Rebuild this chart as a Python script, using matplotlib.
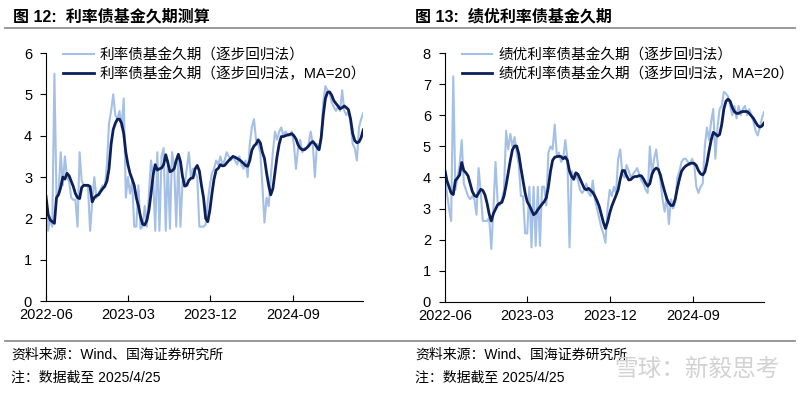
import matplotlib
matplotlib.use('Agg')
import matplotlib.pyplot as plt
import matplotlib.dates as mdates
from matplotlib.lines import Line2D
import numpy as np
import pandas as pd

plt.rcParams['font.family'] = ['Liberation Sans', 'Noto Sans CJK SC']

# weekly observation dates
dates = pd.date_range('2022-06-01', periods=152, freq='7D')

# 图12 利率债基金久期（逐步回归法）
rate_raw = [2.5, 1.7, 2.0, 1.8, 5.5, 2.5, 2.6, 3.6, 2.8, 3.5,
            3.0, 2.9, 2.5, 2.45, 2.45, 1.8, 3.6, 2.9, 2.8, 2.8,
            2.75, 1.7, 2.4, 3.0, 2.5, 2.6, 2.7, 2.8, 2.75, 3.3,
            4.3, 4.6, 5.0, 4.5, 4.4, 4.6, 4.2, 4.9, 2.5, 3.0,
            2.6, 2.9, 1.8, 1.8, 2.8, 1.75, 1.8, 2.3, 1.8, 2.6,
            3.4, 3.0, 1.7, 3.6, 1.7, 3.5, 3.7, 1.7, 3.4, 1.75,
            3.6, 3.3, 1.8, 3.5, 1.8, 2.9, 2.8, 3.2, 3.6, 3.0,
            3.2, 3.1, 3.0, 1.8, 1.8, 1.8, 1.85, 2.4, 2.8, 3.1,
            3.2, 3.4, 3.3, 3.5, 3.3, 3.4, 3.6, 3.5, 3.4, 3.5,
            3.4, 3.3, 3.5, 3.3, 3.2, 3.4, 3.0, 3.8, 4.2, 4.4,
            3.9, 3.8, 3.6, 2.8, 1.9, 2.5, 2.3, 3.0, 3.6, 4.1,
            3.9, 4.1, 4.2, 4.0, 4.1, 4.0, 4.0, 4.1, 3.8, 3.2,
            3.7, 3.9, 3.6, 3.7, 3.7, 3.8, 4.1, 3.8, 3.0, 3.8,
            3.7, 4.0, 4.8, 5.2, 5.1, 5.05, 4.8, 4.7, 4.6, 4.7,
            4.6, 5.1, 4.6, 4.5, 4.6, 4.3, 3.8, 3.7, 3.4, 4.2,
            4.4, 4.55]
# 图12 利率债基金久期（逐步回归法，MA=20）
rate_ma = [2.53, 2.1, 1.96, 1.92, 1.88, 2.5, 2.58, 2.75, 3.0, 2.95,
           3.09, 3.03, 2.9, 2.77, 2.6, 2.5, 2.48, 2.75, 2.8, 2.8,
           2.8, 2.77, 2.4, 2.5, 2.55, 2.57, 2.65, 2.72, 2.78, 2.9,
           3.2, 3.8, 4.15, 4.3, 4.4, 4.4, 4.3, 4.05, 3.6, 3.3,
           3.09, 2.95, 2.8, 2.5, 2.3, 2.04, 1.86, 1.84, 1.95, 2.2,
           2.6, 3.05, 3.3, 3.17, 3.2, 3.22, 3.3, 3.54, 3.35, 3.13,
           3.15, 3.2, 3.4, 3.55, 3.38, 3.01, 2.78, 2.8, 2.92, 2.97,
           2.98, 3.2, 3.28, 3.15, 2.8, 2.5, 2.0, 1.92, 2.2, 2.6,
           2.95, 3.17, 3.21, 3.3, 3.27, 3.28, 3.34, 3.4, 3.45, 3.5,
           3.48, 3.45, 3.42, 3.38, 3.33, 3.28, 3.26, 3.4, 3.65, 3.75,
           3.8, 3.9, 3.83, 3.6, 3.45, 3.1, 2.8, 2.57, 2.72, 3.1,
           3.5, 3.8, 3.98, 3.98, 4.0, 4.02, 4.03, 4.05, 4.0, 3.92,
           3.78, 3.7, 3.66, 3.66, 3.7, 3.75, 3.82, 3.86, 3.8, 3.72,
           3.66, 3.95, 4.5, 4.9, 5.05, 5.06, 4.98, 4.85, 4.78, 4.72,
           4.65, 4.68, 4.72, 4.68, 4.63, 4.4, 4.05, 3.88, 3.83, 3.85,
           3.95, 4.14]

# 图13 绩优利率债基金久期（逐步回归法）
top_raw = [4.2, 3.5, 3.0, 2.6, 7.25, 3.6, 4.0, 4.4, 5.2, 3.8,
           3.6, 3.4, 3.3, 3.4, 3.3, 2.8, 4.3, 3.5, 2.6, 2.6,
           2.6, 2.7, 1.7, 3.0, 4.5, 3.2, 3.1, 3.3, 3.6, 5.5,
           4.9, 5.4, 5.0, 5.3, 4.8, 4.4, 3.4, 3.4, 2.2, 2.2,
           3.7, 1.75, 3.7, 1.8, 3.7, 1.8, 3.7, 3.7, 3.1, 4.8,
           5.0, 4.9, 5.7, 4.7, 4.8, 4.5, 4.6, 5.2, 4.6, 1.75,
           4.2, 4.0, 4.1, 3.9, 3.6, 3.5, 3.6, 3.8, 3.5, 3.4,
           3.9, 3.3, 3.0, 2.7, 2.4, 2.2, 1.9, 3.0, 3.6, 3.4,
           3.7, 3.5, 4.6, 4.9, 4.1, 4.0, 4.4, 4.2, 4.0, 4.1,
           4.2, 4.3, 4.1, 3.9, 3.8, 3.6, 3.5, 5.0, 4.1, 4.6,
           4.9, 4.3, 3.9, 3.3, 2.9, 3.4, 2.5, 3.3, 3.0, 3.2,
           4.0, 4.2, 4.5, 4.6, 4.6, 4.5, 4.4, 4.6, 4.4, 3.7,
           3.5, 3.7, 3.8, 5.0, 5.6, 5.2, 5.8, 6.2, 4.6, 5.6,
           6.2, 6.3, 6.75, 6.7, 6.6, 6.3, 6.0, 6.3, 5.9, 6.3,
           6.0, 6.2, 6.3, 6.0, 6.2, 6.0, 5.8, 5.5, 5.35, 5.6,
           5.9, 6.1]
# 图13 绩优利率债基金久期（逐步回归法，MA=20）
top_ma = [4.25, 3.9, 3.7, 3.5, 3.45, 3.9, 3.98, 4.08, 4.48, 4.22,
          4.15, 4.05, 3.8, 3.55, 3.42, 3.38, 3.5, 3.62, 3.58, 3.44,
          3.17, 2.82, 2.6, 2.84, 2.98, 3.12, 3.17, 3.2, 3.4, 3.75,
          4.15, 4.55, 4.89, 5.01, 5.01, 4.75, 4.3, 3.9, 3.5, 3.22,
          3.1, 2.95, 2.8, 2.85, 2.96, 3.05, 3.14, 3.22, 3.34, 3.7,
          4.2, 4.55, 4.65, 4.67, 4.68, 4.67, 4.6, 4.66, 4.55, 4.2,
          4.03, 3.94, 4.15, 4.1, 3.95, 3.8, 3.65, 3.6, 3.65, 3.58,
          3.52, 3.4, 3.25, 3.08, 2.82, 2.56, 2.36, 2.56, 2.85, 3.08,
          3.25, 3.42, 3.6, 3.95, 4.22, 4.22, 4.05, 3.92, 3.93, 4.0,
          4.03, 4.03, 4.06, 4.05, 3.95, 3.82, 3.72, 3.8, 4.1, 4.24,
          4.3, 4.26, 4.08, 3.8, 3.55, 3.32, 3.18, 3.1, 3.1, 3.3,
          3.65, 3.95, 4.2, 4.3, 4.37, 4.41, 4.45, 4.46, 4.45, 4.38,
          4.22, 4.12, 4.08, 4.18, 4.46, 4.85, 5.2, 5.45, 5.4, 5.33,
          5.38, 5.7, 6.2, 6.45, 6.52, 6.45, 6.25, 6.12, 6.06, 6.06,
          6.1, 6.12, 6.12, 6.12, 6.06, 5.98, 5.9, 5.78, 5.67, 5.62,
          5.65, 5.75]

tick_dates = pd.to_datetime(['2022-06-01', '2023-03-01', '2023-12-01', '2024-09-01'])

light = '#a4c0e6'
dark = '#0c1f5b'

fig = plt.figure(figsize=(8, 3.93), dpi=100)
ax1 = fig.add_axes([0.0575, 0.234, 0.3965, 0.631])
ax2 = fig.add_axes([0.556, 0.232, 0.399, 0.633])

panels = [
    (ax1, rate_raw, rate_ma, '利率债基金久期', 6),
    (ax2, top_raw, top_ma, '绩优利率债基金久期', 8),
]
for ax, raw, ma, name, ymax in panels:
    ax.plot(dates, raw, color=light, lw=1.5, label=name + '（逐步回归法）')
    ax.plot(dates, ma, color=dark, lw=2.0, label=name + '（逐步回归法，MA=20）')
    ax.set_ylim(0, ymax)
    ax.set_yticks(range(0, ymax + 1))
    ax.set_xlim(dates[0], dates[-1])
    ax.set_xticks(tick_dates)
    ax.xaxis.set_major_formatter(mdates.DateFormatter('%Y-%m'))
    for s in ['top', 'right']:
        ax.spines[s].set_visible(False)
    ax.tick_params(axis='y', direction='out', length=4, labelsize=10.5, pad=6)
    ax.tick_params(axis='x', direction='in', length=4, labelsize=10.5, pad=5)
    leg = ax.legend(loc='upper left', bbox_to_anchor=(0.035, 1.045), frameon=False,
                    fontsize=10.5, handlelength=2.1, labelspacing=0.35,
                    borderaxespad=0, handletextpad=0.4)

# titles
fig.text(0.016, 0.957, '图 12:  利率债基金久期测算', fontsize=11.5, fontweight='bold', va='center')
fig.text(0.519, 0.957, '图 13:  绩优利率债基金久期', fontsize=11.5, fontweight='bold', va='center')

# separator lines
fig.add_artist(Line2D([0.006, 0.994], [0.928, 0.928], color='#888888', lw=1.2))
fig.add_artist(Line2D([0.006, 0.994], [0.132, 0.132], color='#888888', lw=1.2))

# notes
for x0 in [0.014, 0.519]:
    fig.text(x0, 0.098, '资料来源：Wind、国海证券研究所', fontsize=10, va='center')
    fig.text(x0, 0.038, '注：数据截至 2025/4/25', fontsize=10, va='center')

fig.text(0.975, 0.06, '雪球：新毅思考', fontsize=17, color='#d2d2d2', ha='right', va='center')

fig.savefig('out.png', dpi=100)
